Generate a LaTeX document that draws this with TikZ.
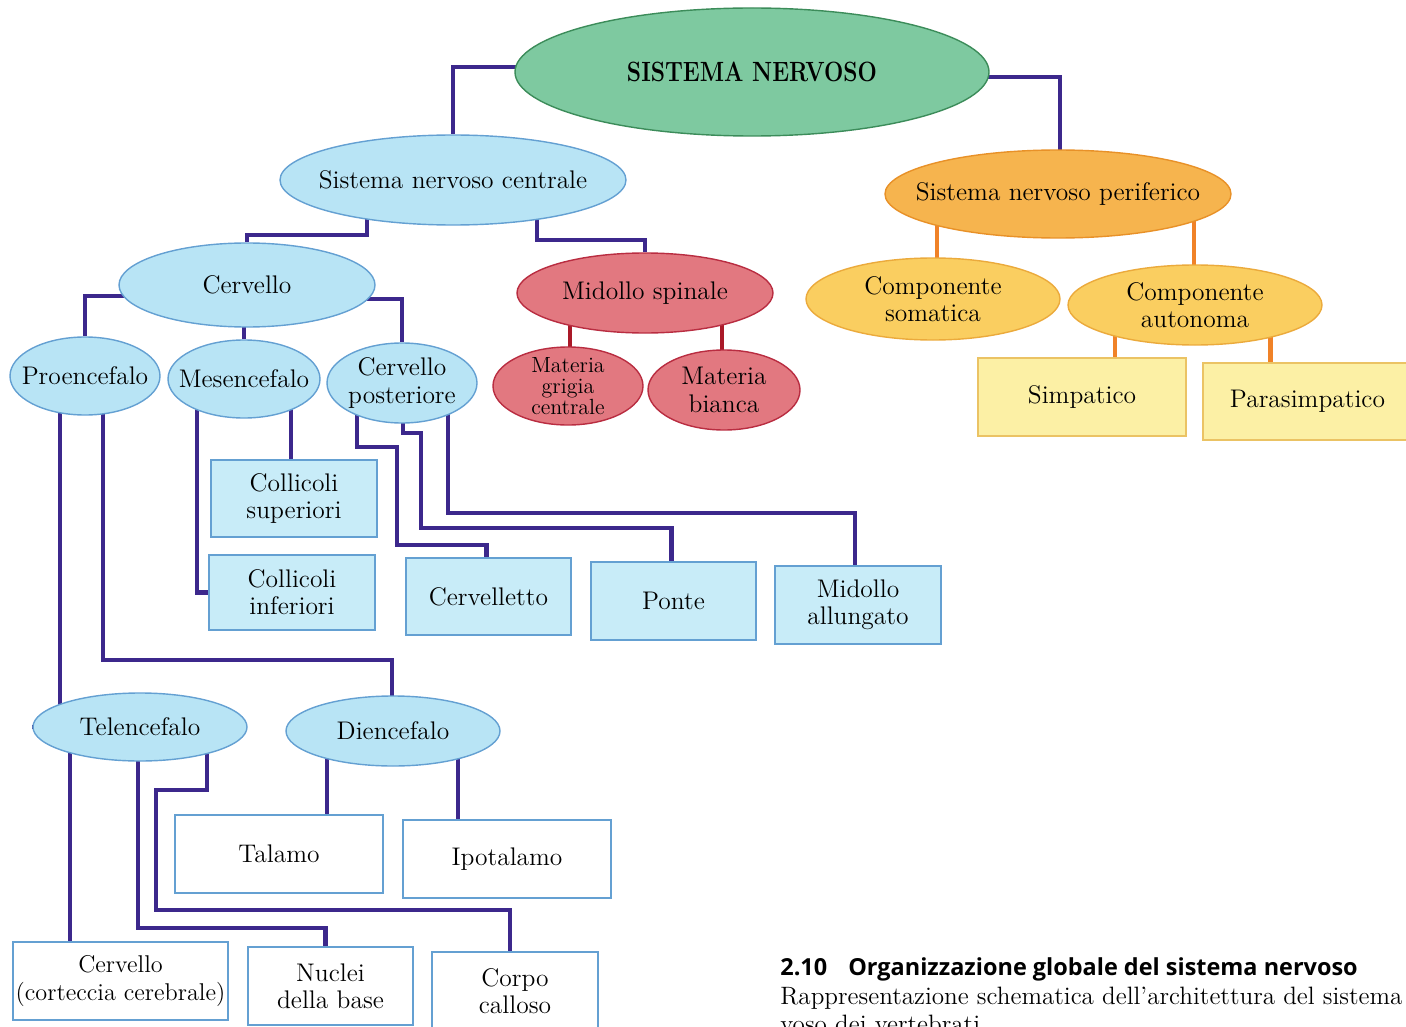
\documentclass[tikz,border=0pt]{standalone}
\usepackage{fontspec}
\newfontfamily\capfont{Open Sans}
\usetikzlibrary{shapes.geometric,calc,backgrounds}
\definecolor{connc}{RGB}{60,40,140}
\definecolor{snfill}{RGB}{126,201,160}
\definecolor{sndraw}{RGB}{60,140,90}
\definecolor{bluefill}{RGB}{184,228,245}
\definecolor{bluedraw}{RGB}{100,160,210}
\definecolor{boxbluefill}{RGB}{200,236,248}
\definecolor{redfill}{RGB}{226,120,128}
\definecolor{reddraw}{RGB}{185,45,65}
\definecolor{redconn}{RGB}{170,25,40}
\definecolor{orfill}{RGB}{246,180,78}
\definecolor{ordraw}{RGB}{232,145,40}
\definecolor{orconn}{RGB}{240,130,40}
\definecolor{yefill}{RGB}{250,206,96}
\definecolor{yedraw}{RGB}{235,170,60}
\definecolor{pafill}{RGB}{252,240,165}
\definecolor{padraw}{RGB}{235,195,100}
\begin{document}
\begin{tikzpicture}[x=0.02cm,y=-0.02cm,
  sz/.style 2 args={minimum width=#1*0.02cm, minimum height=#2*0.02cm},
  txt/.style={font=\fontsize{14.5}{15.5}\selectfont},
  lab/.style={label={[txt,align=center,inner sep=0pt]center:#1}},
  ell/.style={ellipse, inner sep=0pt, line width=0.8pt},
  bx/.style={rectangle, inner sep=0pt, align=center, line width=0.7pt, txt},
  green/.style={ell, fill=snfill, draw=sndraw},
  blue/.style={ell, fill=bluefill, draw=bluedraw},
  red/.style={ell, fill=redfill, draw=reddraw},
  orange/.style={ell, fill=orfill, draw=ordraw},
  yellow/.style={ell, fill=yefill, draw=yedraw},
  bluebox/.style={bx, fill=boxbluefill, draw=bluedraw},
  whitebox/.style={bx, fill=white, draw=bluedraw},
  palebox/.style={bx, fill=pafill, draw=padraw},
  conn/.style={draw=connc, line width=2.8pt, line join=miter},
  redline/.style={draw=redconn, line width=2.6pt},
  orline/.style={draw=orconn, line width=2.4pt}
]
\useasboundingbox (0,0) rectangle (1406,1027);
\clip (0,0) rectangle (1406,1027);

% ellipses
\node[green, sz={474}{128}, label={[inner sep=0pt, font=\fontsize{13}{14}\selectfont\bfseries]center:\scalebox{1}[1.22]{SISTEMA NERVOSO}}] (sn) at (752,72) {};
\node[blue, sz={346}{90}, lab={Sistema nervoso centrale}] (snc) at (453,180) {};
\node[orange, sz={346}{88}, lab={Sistema nervoso periferico}] (snp) at (1058,194) {};
\node[blue, sz={256}{84}, lab={Cervello}] (cerv) at (247,285) {};
\node[red, sz={256}{80}, lab={Midollo spinale}] (mspin) at (645,293) {};
\node[yellow, sz={254}{82}, lab={Componente\\somatica}] (csom) at (933,299) {};
\node[yellow, sz={254}{80}, lab={Componente\\autonoma}] (caut) at (1195,305) {};
\node[blue, sz={150}{78}, lab={Proencefalo}] (proe) at (85,376) {};
\node[blue, sz={152}{78}, lab={Mesencefalo}] (mese) at (244,379) {};
\node[blue, sz={150}{80}, lab={Cervello\\posteriore}] (cpost) at (402,383) {};
\node[red, sz={150}{78}, label={[align=center, inner sep=0pt, font=\fontsize{12.5}{12}\selectfont]center:Materia\\grigia\\centrale}] (mgrig) at (568,386) {};
\node[red, sz={152}{80}, lab={Materia\\bianca}] (mbian) at (724,390) {};
\node[blue, sz={214}{68}, lab={Telencefalo}] (tele) at (140,727) {};
\node[blue, sz={214}{70}, lab={Diencefalo}] (dien) at (393,731) {};

% boxes
\node[bluebox, sz={166}{77}] (csup) at (294,498.5) {Collicoli\\superiori};
\node[bluebox, sz={166}{75}] (cinf) at (292,592.5) {Collicoli\\inferiori};
\node[bluebox, sz={165}{77}] (cblt) at (488.5,596.5) {Cervelletto};
\node[bluebox, sz={165}{78}] (ponte) at (673.5,601) {Ponte};
\node[bluebox, sz={166}{78}] (mall) at (858,605) {Midollo\\allungato};
\node[palebox, sz={208}{78}] (simp) at (1082,397) {Simpatico};
\node[palebox, sz={209}{77}] (paras) at (1307.5,401.5) {Parasimpatico};
\node[whitebox, sz={208}{78}] (tal) at (279,854) {Talamo};
\node[whitebox, sz={208}{78}] (ipo) at (507,859) {Ipotalamo};
\node[whitebox, sz={215}{78}, font=\fontsize{13.8}{15.5}\selectfont] (ccort) at (120.5,981) {Cervello\\(corteccia cerebrale)};
\node[whitebox, sz={165}{78}] (nucl) at (330.5,986) {Nuclei\\della base};
\node[whitebox, sz={166}{78}] (corpo) at (515,991) {Corpo\\calloso};

% caption
\node[anchor=base west, inner sep=0pt, font=\capfont\bfseries\fontsize{13.35}{15}\selectfont] (cap1) at (780,975) {2.10\hspace{0.9em}Organizzazione globale del sistema nervoso};
\node[anchor=base west, inner sep=0pt, font=\fontsize{14.3}{15}\selectfont] (cap2) at (780,1004) {Rappresentazione schematica dell'architettura del sistema};
\node[anchor=base west, inner sep=0pt, font=\fontsize{14.3}{15}\selectfont] (cap3) at (780,1032) {voso dei vertebrati.};

\begin{scope}[on background layer]
\draw[conn] ($(sn)+(0,-5)$) -| (snc);
\draw[conn] ($(sn)+(0,5)$) -| ($(snp)+(2,0)$);
\draw[conn] ($(snc)+(-86,0)$) -- ++(0,55) -| (cerv);
\draw[conn] ($(snc)+(84,0)$) -- ++(0,60) -| (mspin);
\draw[conn] ($(cerv)+(0,11)$) -| (proe);
\draw[conn] (mese) -- (mese |- cerv);
\draw[conn] ($(cerv)+(0,14)$) -| (cpost);
\draw[redline] ($(mgrig)+(2,0)$) -- ++(0,-90);
\draw[redline] ($(mbian)+(-2,0)$) -- ++(0,-95);
\draw[orline] ($(csom)+(4,0)$) -- ++(0,-105);
\draw[orline] ($(caut)+(-1,0)$) -- ++(0,-110);
\draw[orline] ($(simp)+(33,0)$) -- ++(0,-92);
\draw[orline] ($(paras)+(-37,0)$) -- ++(0,-97);
\draw[conn] ($(csup)+(-3,0)$) -- ++(0,-120);
\draw[conn] ($(mese)+(-47,0)$) |- (cinf);
\draw[conn] ($(cpost)+(-45,0)$) -- ++(0,64) -- ++(40,0) -- ++(0,98) -| ($(cblt)+(-2,0)$);
\draw[conn] ($(cpost)+(1,0)$) -- ++(0,50) -- ++(18,0) -- ++(0,95) -| ($(ponte)+(-2,0)$);
\draw[conn] ($(cpost)+(46,0)$) -- ++(0,130) -| ($(mall)+(-3,0)$);
\draw[conn] ($(proe)+(-25,0)$) |- (tele);
\draw[conn] ($(proe)+(18,0)$) -- ++(0,284) -| ($(dien)+(-1,0)$);
\draw[conn] ($(tele)+(-70,0)$) -- ++(0,220);
\draw[conn] ($(tele)+(-2,0)$) -- ++(0,201) -| ($(nucl)+(-5,0)$);
\draw[conn] ($(tele)+(67,0)$) -- ++(0,63) -- ++(-51,0) -- ++(0,120) -| ($(corpo)+(-5,0)$);
\draw[conn] ($(dien)+(-66,0)$) -- ++(0,100);
\draw[conn] ($(dien)+(65,0)$) -- ++(0,100);
\end{scope}
\end{tikzpicture}
\end{document}
